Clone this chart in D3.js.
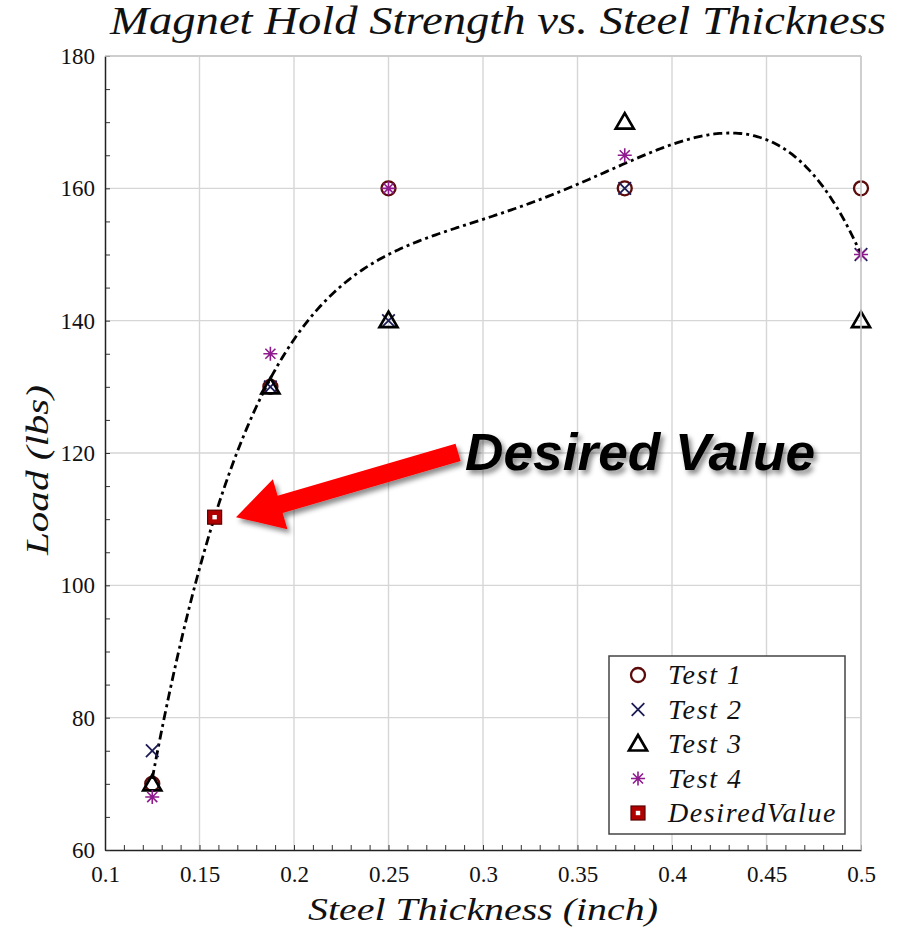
<!DOCTYPE html>
<html>
<head>
<meta charset="utf-8">
<script src="https://cdn.jsdelivr.net/npm/d3@7"></script>
<style>
  body { margin: 0; background: #fff; }
  svg { display: block; }
</style>
</head>
<body>
<div id="chart"></div>
<script>
// thickness values (inch) and the four test runs (lbs)
var thickness = [0.125, 0.1875, 0.25, 0.375, 0.5];
var test1 = [70, 130, 160, 160, 160];
var test2 = [75, 130, 140, 160, 150];
var test3 = [70, 130, 140, 170, 140];
var test4 = [68, 135, 160, 165, 150];

var desiredX = [0.158];
var desiredY = [110.3];

var xTicks = [0.1, 0.15, 0.2, 0.25, 0.3, 0.35, 0.4, 0.45, 0.5];
var xTickLabels = ["0.1", "0.15", "0.2", "0.25", "0.3", "0.35", "0.4", "0.45", "0.5"];
var yTicks = [60, 80, 100, 120, 140, 160, 180];
var yTickLabels = ["60", "80", "100", "120", "140", "160", "180"];

var legendLabels = ["Test 1", "Test 2", "Test 3", "Test 4", "DesiredValue"];

var W = 903, H = 928;
var margin = {top: 56, right: 42, bottom: 78, left: 105};
var width = W - margin.left - margin.right,
    height = H - margin.top - margin.bottom;

// polynomial through all the points (polyfit of degree n-1), as a d3 curve
function PolyCurve(context){ this._context = context; }
PolyCurve.prototype = {
  areaStart: function(){ this._line = 0; },
  areaEnd: function(){ this._line = NaN; },
  lineStart: function(){ this._x = []; this._y = []; },
  point: function(x, y){ this._x.push(+x); this._y.push(+y); },
  lineEnd: function(){
    var xs = this._x, ys = this._y, n = xs.length, c = this._context;
    if (!n) return;
    function lagrange(t){
      var sum = 0;
      for (var i = 0; i < n; i++) {
        var w = 1;
        for (var j = 0; j < n; j++) if (j !== i) w *= (t - xs[j]) / (xs[i] - xs[j]);
        sum += w * ys[i];
      }
      return sum;
    }
    var x0 = xs[0], x1 = xs[n - 1], steps = 300;
    c.moveTo(x0, ys[0]);
    for (var k = 1; k <= steps; k++) {
      var t = x0 + (x1 - x0) * k / steps;
      c.lineTo(t, lagrange(t));
    }
  }
};
function curvePoly(context){ return new PolyCurve(context); }

var svg = d3.select("#chart").append("svg")
  .attr("width", W)
  .attr("height", H);

var defs = svg.append("defs");
var shadow = defs.append("filter").attr("id", "shadow")
  .attr("x", "-20%").attr("y", "-20%").attr("width", "140%").attr("height", "160%");
shadow.append("feDropShadow")
  .attr("dx", 3).attr("dy", 4).attr("stdDeviation", 2.5)
  .attr("flood-color", "#000").attr("flood-opacity", 0.45);

var g = svg.append("g")
  .attr("transform", "translate(" + margin.left + "," + margin.top + ")");

var x = d3.scaleLinear().domain([0.1, 0.5]).range([0, width]);
var y = d3.scaleLinear().domain([60, 180]).range([height, 0]);

var serif = "'Liberation Serif', 'Times New Roman', serif";

// grid
g.append("g").selectAll("line")
  .data(xTicks.slice(1))
  .enter().append("line")
  .attr("x1", function(d){ return x(d); })
  .attr("x2", function(d){ return x(d); })
  .attr("y1", 0).attr("y2", height)
  .style("stroke", "#d6d6d6").style("stroke-width", 1.4);

g.append("g").selectAll("line")
  .data(yTicks.slice(1))
  .enter().append("line")
  .attr("x1", 0).attr("x2", width)
  .attr("y1", function(d){ return y(d); })
  .attr("y2", function(d){ return y(d); })
  .style("stroke", "#d6d6d6").style("stroke-width", 1.4);

// axes, ticks pointing inward
var xMinor = d3.range(10, 51).map(function(d){ return d / 100; });
var yMinor = d3.range(60, 181, 5);

var xAxis = g.append("g").attr("transform", "translate(0," + height + ")");
xAxis.call(d3.axisTop(x).tickValues(xMinor).tickSize(5).tickFormat(""));
xAxis.select(".domain").remove();
xAxis.selectAll(".tick line").style("stroke", "#333");
var xMajor = g.append("g").attr("transform", "translate(0," + height + ")")
  .call(d3.axisBottom(x).tickValues(xTicks).tickSize(0).tickPadding(16)
    .tickFormat(function(d, i){ return xTickLabels[i]; }));
xMajor.select(".domain").style("stroke", "#222").style("stroke-width", 1.5);
xMajor.selectAll("text")
  .style("font-family", serif).style("font-size", "23px").style("fill", "#111");

var yAxis = g.append("g");
yAxis.call(d3.axisRight(y).tickValues(yMinor).tickSize(5).tickFormat(""));
yAxis.select(".domain").remove();
yAxis.selectAll(".tick line").style("stroke", "#333");
var yMajor = g.append("g")
  .call(d3.axisLeft(y).tickValues(yTicks).tickSize(0).tickPadding(10)
    .tickFormat(function(d, i){ return yTickLabels[i]; }));
yMajor.select(".domain").style("stroke", "#222").style("stroke-width", 1.5);
yMajor.selectAll("text")
  .style("font-family", serif).style("font-size", "23px").style("fill", "#111");

// 4th order fit through the mean of the four tests
var meanLoad = thickness.map(function(t, i){
  return d3.mean([test1[i], test2[i], test3[i], test4[i]]);
});
var fitLine = d3.line()
  .x(function(d, i){ return x(thickness[i]); })
  .y(function(d){ return y(d); })
  .curve(curvePoly);
g.append("path")
  .datum(meanLoad)
  .attr("d", fitLine)
  .style("fill", "none")
  .style("stroke", "#000")
  .style("stroke-width", 2.8)
  .style("stroke-dasharray", "9,4,3,4");

// marker shapes
function drawCircle(sel, cx, cy){
  sel.append("circle").attr("cx", cx).attr("cy", cy).attr("r", 7)
    .style("fill", "none").style("stroke", "#5c0a0a").style("stroke-width", 2.3);
}
function drawCross(sel, cx, cy){
  var s = 6.3;
  sel.append("path")
    .attr("d", "M" + (cx - s) + "," + (cy - s) + "L" + (cx + s) + "," + (cy + s) +
      "M" + (cx - s) + "," + (cy + s) + "L" + (cx + s) + "," + (cy - s))
    .style("stroke", "#1c1c55").style("stroke-width", 1.8).style("fill", "none");
}
function drawTriangle(sel, cx, cy){
  sel.append("path")
    .attr("d", "M" + cx + "," + (cy - 9) + "L" + (cx + 9) + "," + (cy + 6.5) +
      "L" + (cx - 9) + "," + (cy + 6.5) + "Z")
    .style("fill", "none").style("stroke", "#000").style("stroke-width", 2.7)
    .style("stroke-linejoin", "miter");
}
function drawStar(sel, cx, cy){
  var s = 7, d2 = s * 0.72, p = "";
  p += "M" + (cx - s) + "," + cy + "L" + (cx + s) + "," + cy;
  p += "M" + cx + "," + (cy - s) + "L" + cx + "," + (cy + s);
  p += "M" + (cx - d2) + "," + (cy - d2) + "L" + (cx + d2) + "," + (cy + d2);
  p += "M" + (cx - d2) + "," + (cy + d2) + "L" + (cx + d2) + "," + (cy - d2);
  sel.append("path").attr("d", p)
    .style("stroke", "#8e1a8e").style("stroke-width", 1.6).style("fill", "none");
}
function drawSquare(sel, cx, cy){
  sel.append("rect").attr("x", cx - 7).attr("y", cy - 7).attr("width", 14).attr("height", 14)
    .style("fill", "#b00000").style("stroke", "#5a0000").style("stroke-width", 1.2);
  sel.append("rect").attr("x", cx - 2.2).attr("y", cy - 2.2).attr("width", 4.4).attr("height", 4.4)
    .style("fill", "#fff");
}

var series = [
  {values: test1, draw: drawCircle},
  {values: test2, draw: drawCross},
  {values: test3, draw: drawTriangle},
  {values: test4, draw: drawStar}
];

var marks = g.append("g");
series.forEach(function(s){
  s.values.forEach(function(v, i){
    s.draw(marks, x(thickness[i]), y(v));
  });
});

// desired value annotation
var tipX = 0.1693, tipY = 110.3, tailX = 0.2868, tailY = 120.1;
var ax = x(tipX), ay = y(tipY), bx = x(tailX), by = y(tailY);
var len = Math.sqrt((bx - ax) * (bx - ax) + (by - ay) * (by - ay));
var ux = (bx - ax) / len, uy = (by - ay) / len;
var nx = -uy, ny = ux;
var headLen = 46, headW = 26, shaftW = 9;
var hx = ax + ux * headLen, hy = ay + uy * headLen;
var arrowPts = [
  [ax, ay],
  [hx + nx * headW, hy + ny * headW],
  [hx + nx * shaftW, hy + ny * shaftW],
  [bx + nx * shaftW, by + ny * shaftW],
  [bx - nx * shaftW, by - ny * shaftW],
  [hx - nx * shaftW, hy - ny * shaftW],
  [hx - nx * headW, hy - ny * headW]
];
g.append("path")
  .attr("d", "M" + arrowPts.join("L") + "Z")
  .style("fill", "#ff0000")
  .attr("filter", "url(#shadow)");

g.append("text")
  .attr("x", x(0.2905)).attr("y", y(117.4))
  .attr("textLength", 350).attr("lengthAdjust", "spacingAndGlyphs")
  .style("font-family", "'Liberation Sans', Arial, sans-serif")
  .style("font-weight", "bold").style("font-style", "italic")
  .style("font-size", "52px").style("fill", "#000")
  .attr("filter", "url(#shadow)")
  .text("Desired Value");

drawSquare(marks, x(desiredX[0]), y(desiredY[0]));

// plot box top/right
g.append("line").attr("x1", 0).attr("x2", width).attr("y1", 0).attr("y2", 0)
  .style("stroke", "#c8c8c8").style("stroke-width", 1.5);
g.append("line").attr("x1", width).attr("x2", width).attr("y1", 0).attr("y2", height)
  .style("stroke", "#c8c8c8").style("stroke-width", 1.5);

// legend
var lg = svg.append("g").attr("transform", "translate(609,656)");
lg.append("rect").attr("width", 236).attr("height", 178)
  .style("fill", "#fff").style("stroke", "#444").style("stroke-width", 1.5);
var legendDraw = [drawCircle, drawCross, drawTriangle, drawStar, drawSquare];
legendLabels.forEach(function(label, i){
  var ly = 19 + i * 34.5;
  legendDraw[i](lg, 29, ly);
  lg.append("text")
    .attr("x", 59).attr("y", ly + 9)
    .style("font-family", serif).style("font-style", "italic")
    .style("font-size", "28px").style("letter-spacing", "1.6px").style("fill", "#111")
    .text(label);
});

// titles
svg.append("text")
  .attr("x", 110).attr("y", 34)
  .attr("textLength", 776).attr("lengthAdjust", "spacingAndGlyphs")
  .style("font-family", serif).style("font-style", "italic")
  .style("font-size", "39px").style("fill", "#111")
  .text("Magnet Hold Strength vs. Steel Thickness");

svg.append("text")
  .attr("x", margin.left + width / 2).attr("y", 920)
  .attr("text-anchor", "middle")
  .attr("textLength", 350).attr("lengthAdjust", "spacingAndGlyphs")
  .style("font-family", serif).style("font-style", "italic")
  .style("font-size", "31px").style("fill", "#111")
  .text("Steel Thickness (inch)");

svg.append("text")
  .attr("transform", "translate(48,470) rotate(-90)")
  .attr("text-anchor", "middle")
  .attr("textLength", 170).attr("lengthAdjust", "spacingAndGlyphs")
  .style("font-family", serif).style("font-style", "italic")
  .style("font-size", "31px").style("fill", "#111")
  .text("Load (lbs)");
</script>
</body>
</html>
